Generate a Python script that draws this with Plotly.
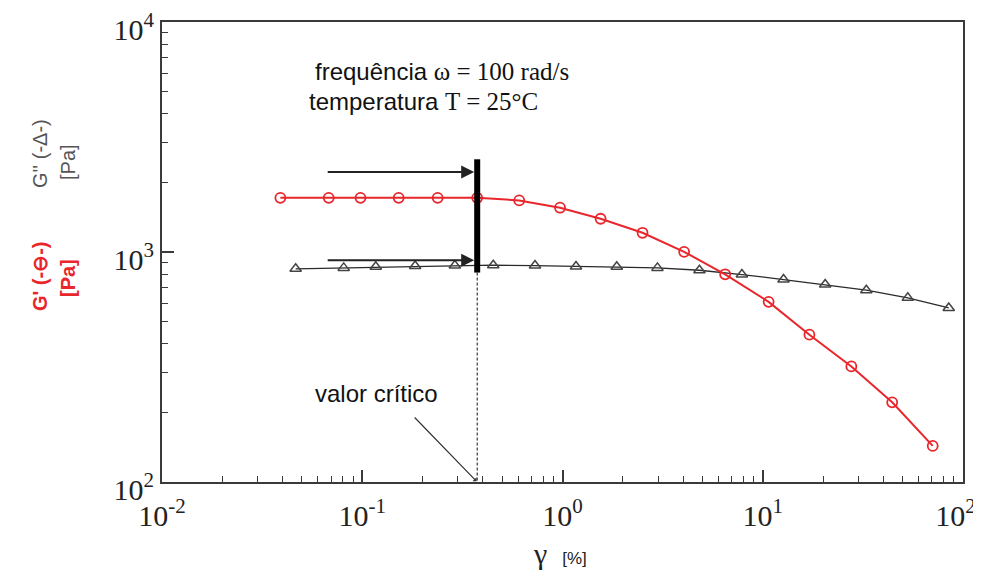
import numpy as np
import plotly.graph_objects as go

# ---- data ----
gamma_storage = [0.039, 0.068, 0.098, 0.152, 0.238, 0.375, 0.608, 0.972, 1.55, 2.51,
                 4.05, 6.49, 10.7, 17.1, 27.7, 44.3, 70.6]
G_storage = [1720, 1720, 1720, 1720, 1720, 1720, 1676, 1558, 1395, 1212,
             1002, 800, 607, 437, 318, 222, 143.5]

gamma_loss = [0.0465, 0.0808, 0.1168, 0.1837, 0.290, 0.451, 0.729, 1.168, 1.866, 2.98,
              4.83, 7.87, 12.7, 20.5, 32.9, 53.0, 84.9]
G_loss = [845, 853, 862, 869, 873, 876, 873, 865, 862, 853,
          833, 798, 759, 722, 682, 632, 571]

critical_strain = 0.375
critical_bar = [2530, 814]          # thick vertical marker (Pa)
arrow_levels = [2227, 921]          # horizontal arrows (Pa)
axis_floor = 100

x_tickvals = [0.01, 0.1, 1, 10, 100]
x_ticktext = ["10<sup>-2</sup>", "10<sup>-1</sup>", "10<sup>0</sup>", "10<sup>1</sup>",
              "10<sup>2</sup>\u00a0\u00a0"]
y_tickvals = [100, 1000, 10000]
y_ticktext = ["10<sup>2</sup>", "10<sup>3</sup>", "10<sup>4</sup>"]

RED = "#e8262b"
GREY = "#555555"
SERIF = "Liberation Serif, Times New Roman, serif"
SANS = "Liberation Sans, Arial, sans-serif"
NARROW = "Liberation Sans Narrow, Arial Narrow, Liberation Sans, sans-serif"

fig = go.Figure()

# G'' (loss modulus)
fig.add_trace(go.Scatter(
    x=gamma_loss, y=G_loss, mode="lines+markers",
    line=dict(color="#2a2a2a", width=1.3),
    marker=dict(symbol="triangle-up-open", size=10, color="#444444", line=dict(width=1.5)),
    showlegend=False))

# G' (storage modulus)
fig.add_trace(go.Scatter(
    x=gamma_storage, y=G_storage, mode="lines+markers",
    line=dict(color=RED, width=2),
    marker=dict(symbol="circle-open", size=10, color=RED, line=dict(width=1.8)),
    showlegend=False))

# dashed line down to axis
fig.add_trace(go.Scatter(
    x=[critical_strain, critical_strain], y=[critical_bar[1], axis_floor], mode="lines",
    line=dict(color="#111111", width=1, dash="3px,2px"), showlegend=False, hoverinfo="skip"))

# thick vertical bar
fig.add_trace(go.Scatter(
    x=[critical_strain, critical_strain], y=critical_bar, mode="lines",
    line=dict(color="#000000", width=6), showlegend=False, hoverinfo="skip"))

annotations = []
# horizontal arrows to the bar
for lvl in arrow_levels:
    annotations.append(dict(
        x=np.log10(critical_strain), y=np.log10(lvl), xref="x", yref="y",
        ax=-151, ay=0, text="", showarrow=True,
        arrowhead=2, arrowsize=1.3, arrowwidth=2, arrowcolor="#222222", standoff=3))

# valor critico arrow
annotations.append(dict(
    x=np.log10(critical_strain), y=np.log10(axis_floor), xref="x", yref="y",
    ax=-64, ay=-66, text="", showarrow=True,
    arrowhead=1, arrowsize=0.8, arrowwidth=1.2, arrowcolor="#333333", standoff=1))

# page offset of the figure (browser body margin)
OFF = 8
PLOT_L, PLOT_R, PLOT_T, PLOT_B = 162, 963, 22, 482

def px_x(px):
    return (px - PLOT_L) / (PLOT_R - PLOT_L)

def px_y(py):
    return (PLOT_B - py) / (PLOT_B - PLOT_T)

SERIF_SPAN = "<span style=\"font-family:'Liberation Serif','Times New Roman',serif;font-size:25px\">"

annotations += [
    dict(x=px_x(313), y=px_y(71.7), xref="paper", yref="paper", xanchor="left", yanchor="middle",
         showarrow=False,
         text="frequência " + SERIF_SPAN + "ω = 100 rad/s</span>",
         font=dict(family=SANS, size=24, color="#111111")),
    dict(x=px_x(306.7), y=px_y(101.7), xref="paper", yref="paper", xanchor="left", yanchor="middle",
         showarrow=False,
         text="temperatura " + SERIF_SPAN + "T = 25°C</span>",
         font=dict(family=SANS, size=24, color="#111111")),
    dict(x=px_x(376), y=px_y(393), xref="paper", yref="paper", xanchor="center", yanchor="middle",
         showarrow=False, text="valor crítico",
         font=dict(family=SANS, size=24, color="#111111")),
    dict(x=px_x(560), y=px_y(553), xref="paper", yref="paper", xanchor="center", yanchor="middle",
         showarrow=False,
         text="γ  <span style=\"font-family:'Liberation Sans';font-size:17px\">[%]</span>",
         font=dict(family=SERIF, size=30, color="#222222")),
    dict(x=px_x(40), y=px_y(276), xref="paper", yref="paper", xanchor="center", yanchor="middle",
         showarrow=False, textangle=-90, text="<b>G' (-⊖-)</b>",
         font=dict(family=NARROW, size=20, color=RED)),
    dict(x=px_x(68), y=px_y(278), xref="paper", yref="paper", xanchor="center", yanchor="middle",
         showarrow=False, textangle=-90, text="<b>[Pa]</b>",
         font=dict(family=NARROW, size=20, color=RED)),
    dict(x=px_x(40), y=px_y(153), xref="paper", yref="paper", xanchor="center", yanchor="middle",
         showarrow=False, textangle=-90, text="G'' (-Δ-)",
         font=dict(family=NARROW, size=20, color=GREY)),
    dict(x=px_x(68), y=px_y(162), xref="paper", yref="paper", xanchor="center", yanchor="middle",
         showarrow=False, textangle=-90, text="[Pa]",
         font=dict(family=NARROW, size=20, color=GREY)),
]

axis_common = dict(
    type="log", showgrid=False, zeroline=False, automargin=False,
    ticklabeloverflow="allow",
    showline=True, linecolor="#3a3a3a", linewidth=2, mirror=True,
    ticks="inside", ticklen=12, tickwidth=1.5, tickcolor="#3a3a3a",
    tickfont=dict(family=SERIF, size=30, color="#222222"),
    minor=dict(ticks="inside", ticklen=6, tickwidth=1.2, tickcolor="#3a3a3a",
               dtick="D1", showgrid=False),
)

FIG_W, FIG_H = 981 - OFF, 572 - OFF
fig.update_layout(
    width=FIG_W, height=FIG_H,
    margin=dict(l=PLOT_L - OFF, r=FIG_W - (PLOT_R - OFF), t=PLOT_T - OFF, b=FIG_H - (PLOT_B - OFF)),
    paper_bgcolor="white", plot_bgcolor="white",
    xaxis=dict(range=[-2, 2], tickvals=x_tickvals, ticktext=x_ticktext,
               ticklabelstandoff=6, **axis_common),
    yaxis=dict(range=[2, 4], tickvals=y_tickvals, ticktext=y_ticktext,
               ticklabelshift=7, **axis_common),
    annotations=annotations,
    showlegend=False,
)

fig.write_html("out.html")
